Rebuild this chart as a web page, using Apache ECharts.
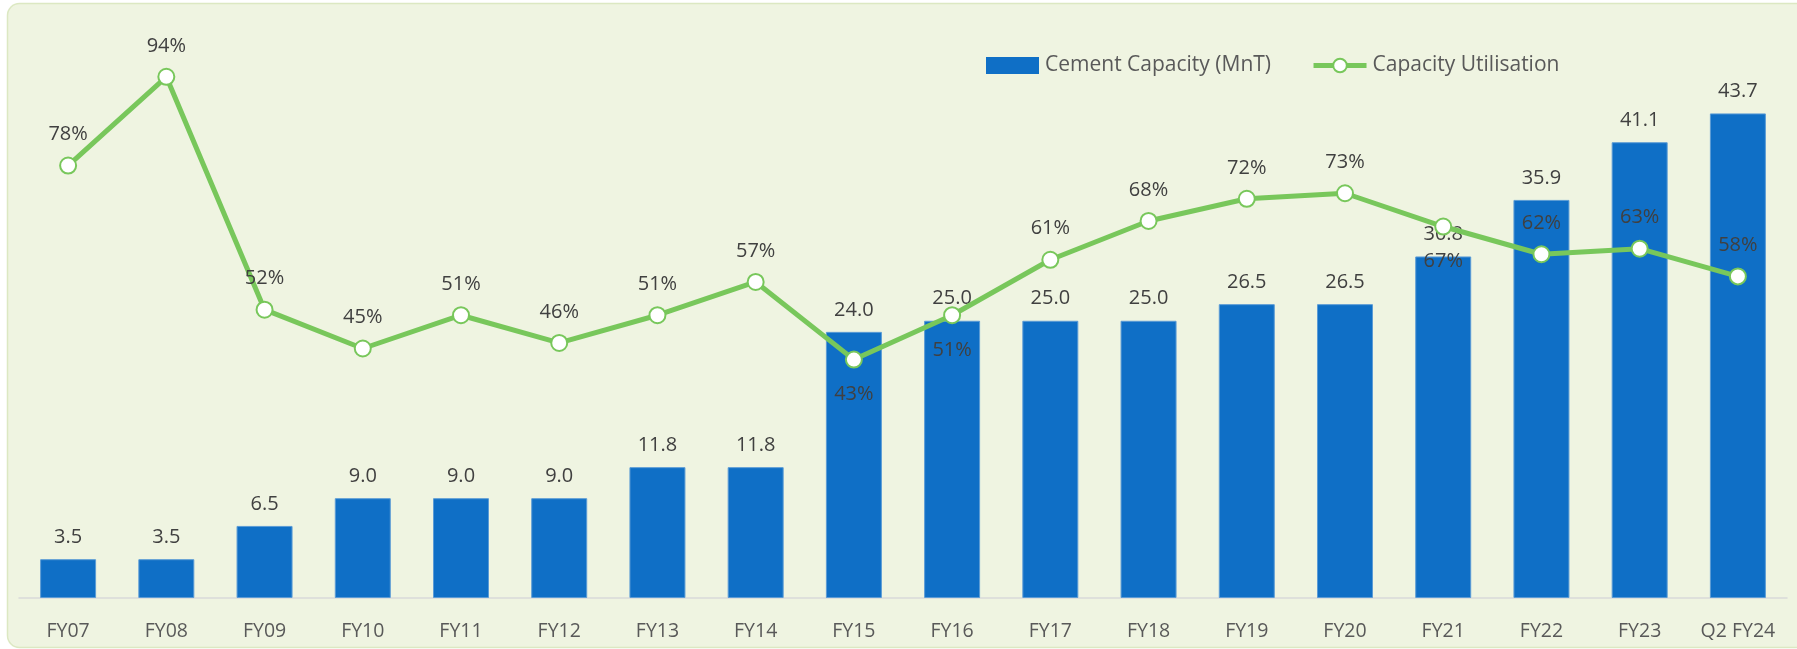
<!DOCTYPE html>
<html>
<head>
<meta charset="utf-8">
<script src="https://cdn.jsdelivr.net/npm/echarts@6/dist/echarts.min.js"></script>
<style>
html,body{margin:0;padding:0;background:#ffffff;}
#chart{width:1797px;height:649px;}
</style>
</head>
<body>
<div id="chart"></div>
<script>
const categories = ['FY07','FY08','FY09','FY10','FY11','FY12','FY13','FY14','FY15','FY16','FY17','FY18','FY19','FY20','FY21','FY22','FY23','Q2 FY24'];
const capacity = [3.5,3.5,6.5,9.0,9.0,9.0,11.8,11.8,24.0,25.0,25.0,25.0,26.5,26.5,30.8,35.9,41.1,43.7];
const utilisation = [78,94,52,45,51,46,51,57,43,51,61,68,72,73,67,62,63,58];
const belowLabels = ['FY15','FY16','FY21'];

const FONT = '"Open Sans", sans-serif';
const chart = echarts.init(document.getElementById('chart'), null, {renderer:'canvas'});

const lineData = utilisation.map((v,i)=>({
  value: v,
  label: belowLabels.includes(categories[i]) ? {position:'bottom', distance:16} : {position:'top', distance:12}
}));

chart.setOption({
  animation:false,
  graphic:[{
    type:'rect', z:-10, silent:true,
    shape:{x:7.5,y:3.5,width:1800,height:644,r:12},
    style:{fill:'#EFF4E1',stroke:'#DCE8C2',lineWidth:1.5}
  }],
  legend:{
    top:50, left:981,
    itemGap:40,
    textStyle:{fontFamily:FONT,fontSize:21,color:'#595959',padding:[0,0,0,1]},
    data:[
      {name:'Cement Capacity (MnT)', icon:'rect', itemStyle:{color:'#0F6FC6',borderWidth:0}},
      {name:'Capacity Utilisation', lineStyle:{width:5,color:'#78C75B'},
        itemStyle:{color:'#FFFFFF',borderColor:'#78C75B',borderWidth:2}}
    ],
    itemWidth:53, itemHeight:17
  },
  grid:{left:19, right:10, top:99, bottom:51, containLabel:false},
  xAxis:{
    type:'category', data:categories,
    axisLine:{lineStyle:{color:'#D9D9D9',width:1.5}},
    axisTick:{show:false},
    axisLabel:{fontFamily:FONT,fontSize:19.5,color:'#595959',margin:23,interval:0}
  },
  yAxis:[
    {type:'value',min:0,max:45,show:false,splitLine:{show:false}},
    {type:'value',min:0,max:90,show:false,splitLine:{show:false}}
  ],
  series:[
    {
      name:'Cement Capacity (MnT)', type:'bar', data:capacity, barCategoryGap:'43%',
      itemStyle:{color:'#0F6FC6',borderColor:'#5B9BD5',borderWidth:1},
      label:{show:true,position:'top',distance:12,fontFamily:FONT,fontSize:20,color:'#404040',
        formatter:p=>p.value.toFixed(1)},
      z:2
    },
    {
      name:'Capacity Utilisation', type:'line', yAxisIndex:1, data:lineData, clip:false,
      symbol:'circle', symbolSize:16,
      lineStyle:{color:'#78C75B',width:5},
      itemStyle:{color:'#FFFFFF',borderColor:'#78C75B',borderWidth:2},
      label:{show:true,fontFamily:FONT,fontSize:20,color:'#404040',formatter:p=>p.value+'%'},
      z:3
    }
  ]
});
</script>
</body>
</html>
